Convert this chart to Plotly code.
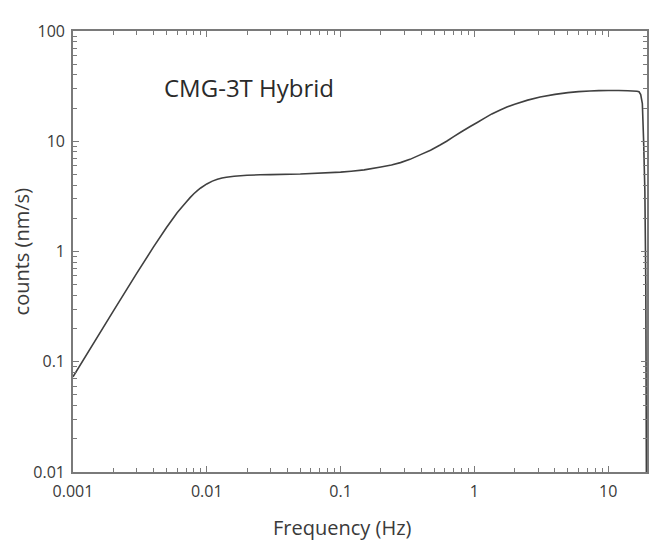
import plotly.graph_objects as go
import math

freq = [0.001, 0.002, 0.003, 0.004, 0.005, 0.006, 0.0065, 0.007, 0.0075, 0.008,
        0.0085, 0.009, 0.01, 0.011, 0.012, 0.013, 0.014, 0.016, 0.02, 0.025,
        0.03, 0.05, 0.1, 0.12, 0.15, 0.2, 0.24, 0.28, 0.33, 0.4, 0.47, 0.55,
        0.62, 0.7, 0.8, 0.93, 1.05, 1.2, 1.35, 1.56, 1.75, 2.0, 2.5, 3.1, 4.0,
        5.0, 6.0, 7.3, 8.5, 10.0, 12.0, 14.0, 16.4, 17.0, 17.5, 18.0, 18.4,
        18.8, 19.1, 19.3]
counts = [0.073, 0.288, 0.636, 1.1, 1.65, 2.25, 2.52, 2.8, 3.08, 3.34,
          3.57, 3.77, 4.1, 4.35, 4.52, 4.64, 4.72, 4.82, 4.92, 4.96,
          4.98, 5.05, 5.25, 5.35, 5.5, 5.85, 6.1, 6.4, 6.85, 7.6, 8.3, 9.2,
          10.0, 11.0, 12.2, 13.6, 14.8, 16.3, 17.7, 19.2, 20.4, 21.7, 23.6, 25.2, 26.6,
          27.6, 28.2, 28.6, 28.8, 28.9, 28.9, 28.7, 28.4, 28.1, 26.5, 22.0, 10.0,
          3.5, 0.5, 0.009]

x_ticks = [0.001, 0.01, 0.1, 1, 10]
x_labels = ["0.001", "0.01", "0.1", "1", "10"]
y_ticks = [0.01, 0.1, 1, 10, 100]
y_labels = ["0.01", "0.1", "1", "10", "100"]

title_text = "CMG-3T Hybrid"
x_title = "Frequency (Hz)"
y_title = "counts (nm/s)"

font_family = "Open Sans, Lato, sans-serif"
axis_color = "#7a7a7a"
text_color = "#3a3a3a"

fig = go.Figure()
fig.add_trace(go.Scatter(x=freq, y=counts, mode="lines",
                         line=dict(color="#404040", width=1.6, simplify=False),
                         showlegend=False, hoverinfo="skip"))

axis_common = dict(
    type="log", showgrid=False, zeroline=False, automargin=False,
    showline=True, linecolor=axis_color, linewidth=1.6, mirror="ticks",
    ticks="inside", ticklen=6, tickwidth=1.2, tickcolor=axis_color,
    tickfont=dict(family=font_family, size=16, color=text_color),
    minor=dict(ticks="inside", ticklen=4, tickwidth=1, tickcolor=axis_color,
               dtick="D1", showgrid=False),
)

fig.update_xaxes(**axis_common, range=[-3, math.log10(19.5)],
                 tickvals=x_ticks, ticktext=x_labels, ticklabelstandoff=4)
fig.update_yaxes(**axis_common, range=[-2, 2],
                 tickvals=y_ticks, ticktext=y_labels, ticklabelstandoff=3)

fig.add_annotation(text=x_title, xref="paper", yref="paper",
                   x=0.469, y=-0.125, xanchor="center", yanchor="middle",
                   showarrow=False,
                   font=dict(family=font_family, size=20, color=text_color))

fig.add_annotation(text=y_title, xref="paper", yref="paper",
                   x=-0.089, y=0.5, xanchor="center", yanchor="middle",
                   textangle=-90, showarrow=False,
                   font=dict(family=font_family, size=20, color=text_color))

fig.add_annotation(text=title_text, xref="paper", yref="paper",
                   x=0.155, y=0.872, xanchor="left", yanchor="middle",
                   showarrow=False,
                   font=dict(family=font_family, size=24, color="#2a2a2a"))

fig.update_layout(
    width=655, height=541,
    margin=dict(l=73, r=8, t=31, b=69),
    plot_bgcolor="white", paper_bgcolor="white",
)

# remove the browser's default 8px body margin so the figure fills the window
fig.write_html("out.html",
               config={"displayModeBar": False},
               post_script="document.body.style.margin='0';"
                           "document.body.style.overflow='hidden';")
